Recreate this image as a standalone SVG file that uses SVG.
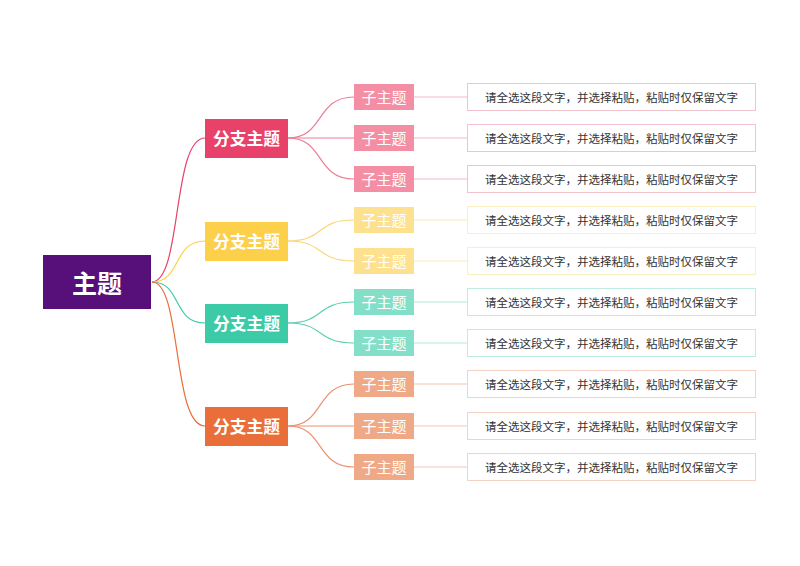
<svg xmlns="http://www.w3.org/2000/svg" width="800" height="566" viewBox="0 0 800 566">
<style>
text{font-family:"Noto Sans CJK SC","Noto Sans",sans-serif;text-anchor:middle;dominant-baseline:central}
.main text{fill:#fff;font-size:25px;font-weight:bold}
.br text{fill:#fff;font-size:16.8px;font-weight:bold}
.sub text{fill:#fff;font-size:15px}
.box rect{fill:#fff;stroke-width:1}
.box text{fill:#333;font-size:11.5px}
#conn path{fill:none;stroke-width:1.2}
.p1{stroke:#e8426b}.p2{stroke:#fdd04b}.p3{stroke:#3ccba6}.p4{stroke:#e96e3a}
.s1{stroke:#ea7f95}.s2{stroke:#fbd779}.s3{stroke:#5fd0b3}.s4{stroke:#ea9373}
.l1{stroke:#f3b8c5}.l2{stroke:#fbe9b3}.l3{stroke:#b1ead9}.l4{stroke:#f4c6b2}
</style>
<rect width="800" height="566" fill="#fff"/>
<g id="conn">
<path class="p1" d="M152,282 C182,282 172,138 205,138"/>
<path class="p2" d="M152,282 C182,282 172,241 205,241"/>
<path class="p3" d="M152,282 C182,282 172,323 205,323"/>
<path class="p4" d="M152,282 C182,282 172,426 205,426"/>
<path class="s1" d="M288,138 C325,138 315,97 354,97"/>
<path class="s1" d="M288,138 L354,138"/>
<path class="s1" d="M288,138 C325,138 315,179 354,179"/>
<path class="s2" d="M288,241 C325,241 315,220 354,220"/>
<path class="s2" d="M288,241 C325,241 315,261 354,261"/>
<path class="s3" d="M288,323 C325,323 315,302 354,302"/>
<path class="s3" d="M288,323 C325,323 315,343 354,343"/>
<path class="s4" d="M288,426 C325,426 315,384 354,384"/>
<path class="s4" d="M288,426 L354,426"/>
<path class="s4" d="M288,426 C325,426 315,467 354,467"/>
<path class="l1" d="M414,97H467M414,138H467M414,179H467"/>
<path class="l2" d="M414,220H467M414,261H467"/>
<path class="l3" d="M414,302H467M414,343H467"/>
<path class="l4" d="M414,384H467M414,426H467M414,467H467"/>
</g>
<g id="main" class="main"><rect x="43" y="255" width="108" height="54" fill="#57107a"/><text x="97" y="281.5">主题</text></g>
<g id="b1" class="br"><rect x="205" y="119" width="83" height="39" fill="#e8426b"/><text x="246.5" y="138">分支主题</text></g>
<g id="b2" class="br"><rect x="205" y="222" width="83" height="39" fill="#fdd04b"/><text x="246.5" y="241">分支主题</text></g>
<g id="b3" class="br"><rect x="205" y="304" width="83" height="39" fill="#3ccba6"/><text x="246.5" y="323">分支主题</text></g>
<g id="b4" class="br"><rect x="205" y="407" width="83" height="39" fill="#e96e3a"/><text x="246.5" y="426">分支主题</text></g>
<g id="s1a" class="sub"><rect x="354" y="84" width="60" height="26" fill="#f38ea4"/><text x="384" y="96.5">子主题</text></g>
<g id="s1b" class="sub"><rect x="354" y="125" width="60" height="26" fill="#f38ea4"/><text x="384" y="137.5">子主题</text></g>
<g id="s1c" class="sub"><rect x="354" y="166" width="60" height="26" fill="#f38ea4"/><text x="384" y="178.5">子主题</text></g>
<g id="s2a" class="sub"><rect x="354" y="207" width="60" height="26" fill="#fde18e"/><text x="384" y="219.5">子主题</text></g>
<g id="s2b" class="sub"><rect x="354" y="248" width="60" height="26" fill="#fde18e"/><text x="384" y="260.5">子主题</text></g>
<g id="s3a" class="sub"><rect x="354" y="289" width="60" height="26" fill="#84dfc8"/><text x="384" y="301.5">子主题</text></g>
<g id="s3b" class="sub"><rect x="354" y="330" width="60" height="26" fill="#84dfc8"/><text x="384" y="342.5">子主题</text></g>
<g id="s4a" class="sub"><rect x="354" y="371" width="60" height="26" fill="#f0a987"/><text x="384" y="383.5">子主题</text></g>
<g id="s4b" class="sub"><rect x="354" y="413" width="60" height="26" fill="#f0a987"/><text x="384" y="425.5">子主题</text></g>
<g id="s4c" class="sub"><rect x="354" y="454" width="60" height="26" fill="#f0a987"/><text x="384" y="466.5">子主题</text></g>
<g id="t1a" class="box"><rect x="467.5" y="83.5" width="288" height="27" stroke="#f3c2cd"/><text x="611.5" y="96.5">请全选这段文字，并选择粘贴，粘贴时仅保留文字</text></g>
<g id="t1b" class="box"><rect x="467.5" y="124.5" width="288" height="27" stroke="#f3c2cd"/><text x="611.5" y="137.5">请全选这段文字，并选择粘贴，粘贴时仅保留文字</text></g>
<g id="t1c" class="box"><rect x="467.5" y="165.5" width="288" height="27" stroke="#f3c2cd"/><text x="611.5" y="178.5">请全选这段文字，并选择粘贴，粘贴时仅保留文字</text></g>
<g id="t2a" class="box"><rect x="467.5" y="206.5" width="288" height="27" stroke="#fbeec2"/><text x="611.5" y="219.5">请全选这段文字，并选择粘贴，粘贴时仅保留文字</text></g>
<g id="t2b" class="box"><rect x="467.5" y="247.5" width="288" height="27" stroke="#fbeec2"/><text x="611.5" y="260.5">请全选这段文字，并选择粘贴，粘贴时仅保留文字</text></g>
<g id="t3a" class="box"><rect x="467.5" y="288.5" width="288" height="27" stroke="#bdeee0"/><text x="611.5" y="301.5">请全选这段文字，并选择粘贴，粘贴时仅保留文字</text></g>
<g id="t3b" class="box"><rect x="467.5" y="329.5" width="288" height="27" stroke="#bdeee0"/><text x="611.5" y="342.5">请全选这段文字，并选择粘贴，粘贴时仅保留文字</text></g>
<g id="t4a" class="box"><rect x="467.5" y="370.5" width="288" height="27" stroke="#f5d2c3"/><text x="611.5" y="383.5">请全选这段文字，并选择粘贴，粘贴时仅保留文字</text></g>
<g id="t4b" class="box"><rect x="467.5" y="412.5" width="288" height="27" stroke="#f5d2c3"/><text x="611.5" y="425.5">请全选这段文字，并选择粘贴，粘贴时仅保留文字</text></g>
<g id="t4c" class="box"><rect x="467.5" y="453.5" width="288" height="27" stroke="#f5d2c3"/><text x="611.5" y="466.5">请全选这段文字，并选择粘贴，粘贴时仅保留文字</text></g>
</svg>
